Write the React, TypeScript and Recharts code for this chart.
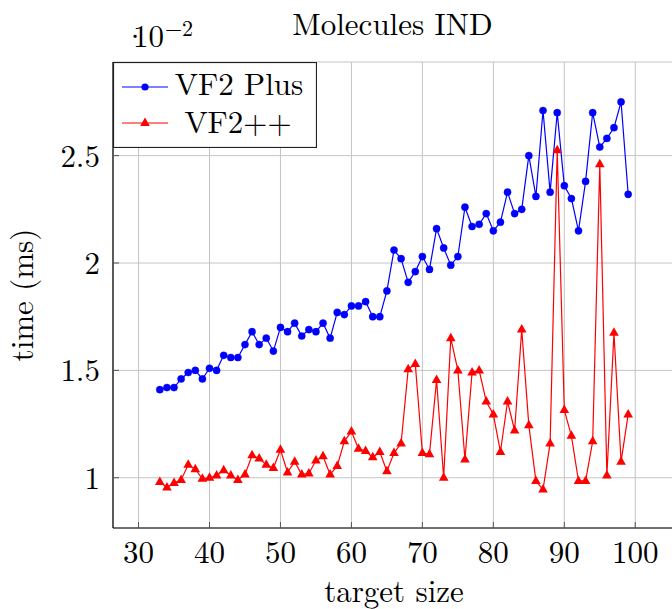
import React from "react";
import { LineChart, Line, XAxis, YAxis, CartesianGrid, Legend } from "recharts";

// target sizes (x) and mean times in units of 10^-2 ms
const targetSizes = [
  33, 34, 35, 36, 37, 38, 39, 40, 41, 42, 43, 44, 45, 46, 47, 48, 49, 50, 51, 52, 53, 54,
  55, 56, 57, 58, 59, 60, 61, 62, 63, 64, 65, 66, 67, 68, 69, 70, 71, 72, 73, 74, 75, 76,
  77, 78, 79, 80, 81, 82, 83, 84, 85, 86, 87, 88, 89, 90, 91, 92, 93, 94, 95, 96, 97, 98, 99,
];

const vf2PlusTimes = [
  1.41, 1.42, 1.42, 1.46, 1.49, 1.5, 1.46, 1.51, 1.5, 1.57, 1.56, 1.56, 1.62, 1.68, 1.62,
  1.65, 1.59, 1.7, 1.68, 1.72, 1.66, 1.69, 1.68, 1.72, 1.65, 1.77, 1.76, 1.8, 1.8, 1.82,
  1.75, 1.75, 1.87, 2.06, 2.02, 1.91, 1.96, 2.03, 1.97, 2.16, 2.07, 1.99, 2.03, 2.26, 2.17,
  2.18, 2.23, 2.15, 2.19, 2.33, 2.23, 2.25, 2.5, 2.31, 2.71, 2.33, 2.7, 2.36, 2.3, 2.15,
  2.38, 2.7, 2.54, 2.58, 2.63, 2.75, 2.32,
];

const vf2ppTimes = [
  0.98, 0.955, 0.975, 0.99, 1.06, 1.04, 0.995, 1.0, 1.01, 1.035, 1.01, 0.99, 1.015, 1.105,
  1.09, 1.06, 1.045, 1.13, 1.025, 1.075, 1.015, 1.02, 1.08, 1.1, 1.015, 1.055, 1.17, 1.215,
  1.135, 1.125, 1.095, 1.12, 1.03, 1.115, 1.16, 1.505, 1.53, 1.115, 1.11, 1.455, 1.0, 1.65,
  1.5, 1.085, 1.49, 1.5, 1.355, 1.295, 1.12, 1.355, 1.22, 1.69, 1.245, 0.985, 0.945, 1.16,
  2.525, 1.315, 1.195, 0.985, 0.985, 1.17, 2.46, 1.01, 1.675, 1.075, 1.295,
];

const xTicks = [30, 40, 50, 60, 70, 80, 90, 100];
const yTicks = [1, 1.5, 2, 2.5];

const data = targetSizes.map((size, i) => ({
  size,
  vf2Plus: vf2PlusTimes[i],
  vf2pp: vf2ppTimes[i],
}));

const FONT = "Latin Modern Roman";
const FS = 31;
const BLUE = "#0000ff";
const RED = "#ff0000";

function Triangle(props: any) {
  const { cx, cy } = props;
  if (cx == null || cy == null) return null;
  return (
    <polygon
      points={`${cx},${cy - 5.5} ${cx - 4.8},${cy + 3} ${cx + 4.8},${cy + 3}`}
      fill={RED}
    />
  );
}

function LegendBox() {
  return (
    <svg width={204} height={86} style={{ display: "block" }}>
      <rect x={0.5} y={0.5} width={203} height={85} fill="#fff" stroke="#222" strokeWidth={1.2} />
      <line x1={9} y1={25} x2={55} y2={25} stroke={BLUE} strokeWidth={1.2} />
      <circle cx={32} cy={25} r={3.6} fill={BLUE} />
      <text x={126} y={33} textAnchor="middle" fontFamily={FONT} fontSize={FS} fill="#000">
        VF2 Plus
      </text>
      <line x1={9} y1={61} x2={55} y2={61} stroke={RED} strokeWidth={1.2} />
      <polygon points="32,55.5 27.2,64 36.8,64" fill={RED} />
      <text x={125} y={71} textAnchor="middle" fontFamily={FONT} fontSize={FS} fill="#000">
        VF2++
      </text>
    </svg>
  );
}

export default function App() {
  return (
    <div
      style={{
        position: "fixed",
        left: 0,
        top: 0,
        width: 672,
        height: 609,
        overflow: "hidden",
        background: "#fff",
      }}
    >
      <LineChart
        width={700}
        height={609}
        data={data}
        margin={{ top: 62, right: 25, bottom: 0, left: 0 }}
      >
        <CartesianGrid stroke="#c4c4c4" strokeWidth={1} />
        <XAxis
          dataKey="size"
          type="number"
          domain={[26.4, 105.6]}
          ticks={xTicks}
          allowDataOverflow
          height={81}
          tickLine={{ stroke: "#555" }}
          tickSize={-6}
          tickMargin={19}
          axisLine={{ stroke: "#000", strokeWidth: 1.2 }}
          tick={{ fill: "#000", fontSize: FS, fontFamily: FONT }}
          label={{
            value: "target size",
            position: "insideBottom",
            offset: 7,
            fill: "#000",
            fontSize: FS,
            fontFamily: FONT,
          }}
        />
        <XAxis
          xAxisId="top"
          orientation="top"
          dataKey="size"
          type="number"
          domain={[26.4, 105.6]}
          ticks={xTicks}
          height={0}
          tick={false}
          tickLine={{ stroke: "#555" }}
          tickSize={-6}
          axisLine={{ stroke: "#000", strokeWidth: 1.2 }}
        />
        <YAxis
          type="number"
          domain={[0.766, 2.936]}
          ticks={yTicks}
          allowDataOverflow
          width={113}
          tickLine={{ stroke: "#555" }}
          tickSize={-6}
          tickMargin={19}
          axisLine={{ stroke: "#000", strokeWidth: 1.2 }}
          tick={{ fill: "#000", fontSize: FS, fontFamily: FONT }}
        />
        <Line
          dataKey="vf2Plus"
          name="VF2 Plus"
          stroke={BLUE}
          strokeWidth={1.2}
          dot={{ r: 3.6, fill: BLUE, stroke: BLUE, strokeWidth: 0.4 }}
          isAnimationActive={false}
        />
        <Line
          dataKey="vf2pp"
          name="VF2++"
          stroke={RED}
          strokeWidth={1.2}
          dot={<Triangle />}
          isAnimationActive={false}
        />
        <Legend
          layout="horizontal"
          verticalAlign="middle"
          align="center"
          wrapperStyle={{ left: 113, top: 62, width: 204, height: 86 }}
          content={() => <LegendBox />}
        />
      </LineChart>
      <svg
        width={672}
        height={609}
        style={{ position: "absolute", left: 0, top: 0, pointerEvents: "none" }}
      >
        <text x={392.5} y={35} textAnchor="middle" fontFamily={FONT} fontSize={FS} fill="#000">
          Molecules IND
        </text>
        <text y={47} fontFamily={FONT} fontSize={FS} fill="#000">
          <tspan x={123}>·</tspan>
          <tspan x={133}>10</tspan>
          <tspan x={165} y={36} fontSize={22}>
            −2
          </tspan>
        </text>
        <text
          x={33}
          y={295}
          transform="rotate(-90 33 295)"
          textAnchor="middle"
          fontFamily={FONT}
          fontSize={FS}
          fill="#000"
        >
          time (ms)
        </text>
      </svg>
    </div>
  );
}
